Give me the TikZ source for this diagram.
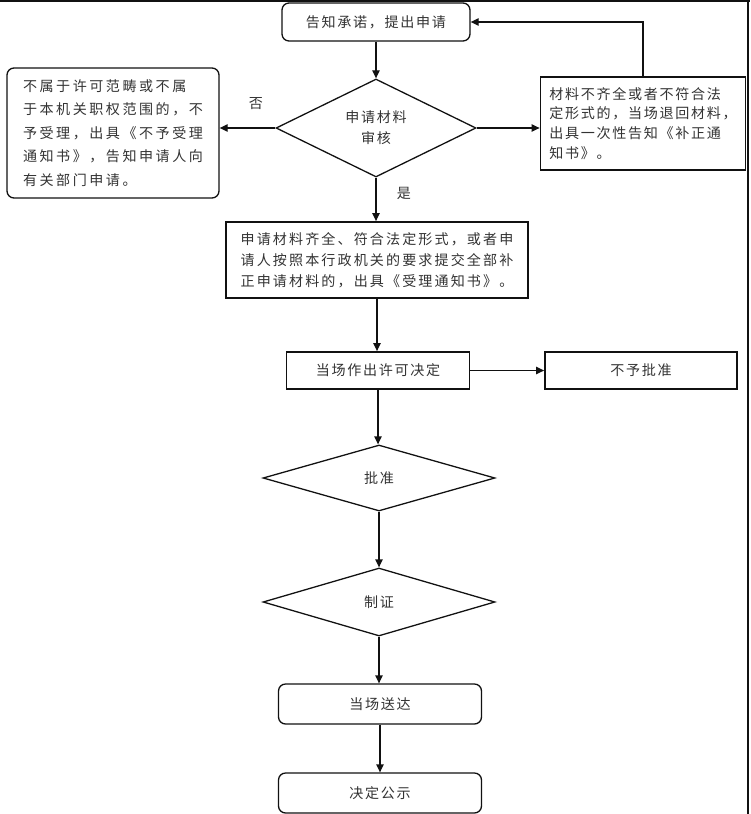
\documentclass[tikz,border=0pt]{standalone}
\usepackage{fontspec}
\usepackage{tikz}
\usetikzlibrary{arrows.meta,positioning,shapes.geometric}
\newfontfamily\cjkfont[LetterSpace=12]{Noto Sans CJK SC}
\newfontfamily\cjkwide[LetterSpace=18]{Noto Sans CJK SC}
\newfontfamily\cjkmid[LetterSpace=15]{Noto Sans CJK SC}
\definecolor{inkline}{HTML}{111111}
\definecolor{inktext}{HTML}{333333}
\tikzset{
  blk/.style={draw=inkline, line width=1.1pt, fill=white, align=center, inner sep=3pt, text=inktext, font=\cjkfont\fontsize{12}{18}\selectfont},
  blkr/.style={blk, rounded corners=6pt},
  blkt/.style={blk, line width=1.5pt},
  dec/.style={blk, diamond, inner sep=0pt},
  ar/.style={-{Triangle[length=2.4mm,width=2.2mm]}, line width=1.1pt, draw=inkline},
  lbl/.style={text=inktext, font=\cjkfont\fontsize{12}{14}\selectfont},
}

\begin{document}
\begin{tikzpicture}[x=0.03cm, y=-0.03cm]
    \useasboundingbox (0,0) rectangle (750,814);
    \draw[line width=1.2pt, draw=inkline] (0,1) -- (750,1);
    \draw[line width=2.2pt, draw=inkline] (748,0) -- (748,814);
    \node[blkr, minimum width=5.64cm, minimum height=1.14cm] (notice) at (376,22) {告知承诺，提出申请};
    \node[dec, minimum width=6cm, minimum height=2.94cm] (check) at (376,128) {申请材料\\审核};
    \node[blkr, align=left, font=\cjkwide\fontsize{12}{20}\selectfont, minimum width=6.36cm, minimum height=3.9cm] (reject) at (113,133) {不属于许可范畴或不属\\于本机关职权范围的，不\\予受理，出具《不予受理\\通知书》，告知申请人向\\有关部门申请。};
    \node[blkt, align=left, font=\cjkfont\fontsize{12}{17}\selectfont, minimum width=6.15cm, minimum height=2.79cm] (back) at (643,123.5) {材料不齐全或者不符合法\\定形式的，当场退回材料，\\出具一次性告知《补正通\\知书》。};
    \node[blkt, align=left, font=\cjkmid\fontsize{12}{18}\selectfont, minimum width=9.06cm, minimum height=2.28cm] (accept) at (377,260) {申请材料齐全、符合法定形式，或者申\\请人按照本行政机关的要求提交全部补\\正申请材料的，出具《受理通知书》。};
    \node[blkt, minimum width=5.49cm, minimum height=1.11cm] (decide) at (378,370.5) {当场作出许可决定};
    \node[blkt, minimum width=5.76cm, minimum height=1.11cm] (deny) at (641,370.5) {不予批准};
    \node[dec, minimum width=6.96cm, minimum height=1.98cm] (approve) at (379,478) {批准};
    \node[dec, minimum width=6.96cm, minimum height=2.04cm] (issue) at (379,602) {制证};
    \node[blkr, minimum width=6.09cm, minimum height=1.2cm] (deliver) at (380,704) {当场送达};
    \node[blkr, minimum width=6.09cm, minimum height=1.2cm] (publish) at (380,793) {决定公示};
    \node[lbl] (nolbl) at (256,104) {否};
    \node[lbl] (yeslbl) at (404,193) {是};
    \draw[ar] (notice.south) -- (notice.south |- check.north);
    \draw[ar] (check.west) -- (check.west -| reject.east);
    \draw[ar] (check.east) -- (check.east -| back.west);
    \draw[ar] (back.north) |- (notice.east);
    \draw[ar] (check.south) -- (check.south |- accept.north);
    \draw[ar] (accept.south) -- (accept.south |- decide.north);
    \draw[ar] (decide.east) -- (deny.west);
    \draw[ar] (decide.south) -- (decide.south |- approve.north);
    \draw[ar] (approve.south) -- (approve.south |- issue.north);
    \draw[ar] (issue.south) -- (issue.south |- deliver.north);
    \draw[ar] (deliver.south) -- (deliver.south |- publish.north);
\end{tikzpicture}
\end{document}
